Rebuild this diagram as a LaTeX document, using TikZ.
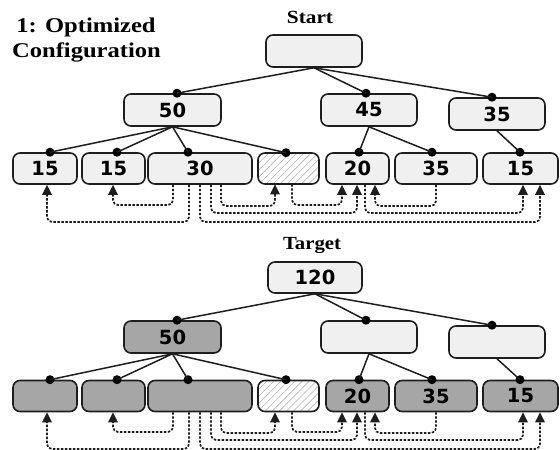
\documentclass[tikz,border=0pt]{standalone}
\usepackage{fontspec}
\setmainfont{Liberation Serif}
\newfontfamily\numfont{DejaVu Sans}
\usetikzlibrary{arrows.meta,patterns.meta}
\definecolor{boxlight}{HTML}{F0F0F0}
\definecolor{boxdark}{HTML}{A6A6A6}
\definecolor{edge}{HTML}{1E1E1E}

\tikzset{
  box/.style={draw=edge, line width=1.6pt, rounded corners=7pt, fill=boxlight,
    inner sep=0pt, text=black, font=\numfont\bfseries\fontsize{19.5}{21}\selectfont},
  dark/.style={fill=boxdark},
  hatch/.style={preaction={fill=white},
    pattern={Lines[angle=45,distance=5pt,line width=0.6pt]}, pattern color=gray!60},
  tie/.style={draw=edge, line width=1.5pt},
  knot/.style={circle, fill=black, inner sep=0pt, minimum size=9pt},
  wire/.style={draw=edge, line width=1.7pt, dash pattern=on 2.4pt off 1.6pt,
    rounded corners=5pt, -{Triangle[width=9.5pt,length=10pt]}},
  heading/.style={font=\bfseries\fontsize{21}{25}\selectfont, anchor=base, inner sep=0pt},
  caption/.style={font=\bfseries\fontsize{18.5}{20}\selectfont, anchor=base, inner sep=0pt},
}

% dashed hand-over lines below the leaf row of tree #1
\newcommand\wiring[1]{%
  \draw[wire] (189,0 |- #1c.south) -- (189,222) -- (47,222) -- (47,0 |- #1a.south);
  \draw[wire] (173,0 |- #1c.south) -- (173,205) -- (113,205) -- (113,0 |- #1b.south);
  \draw[wire] (221,0 |- #1c.south) -- (221,206) -- (275,206) -- (275,0 |- #1d.south);
  \draw[wire] (211,0 |- #1c.south) -- (211,213) -- (357,213) -- (357,0 |- #1e.south);
  \draw[wire] (200,0 |- #1c.south) -- (200,222) -- (540,222) -- (540,0 |- #1g.south);
  \draw[wire] (292,0 |- #1d.south) -- (292,205) -- (342,205) -- (342,0 |- #1e.south);
  \draw[wire] (436,0 |- #1f.south) -- (436,206) -- (375,206) -- (375,0 |- #1e.south);
  \draw[wire] (365,0 |- #1e.south) -- (365,213) -- (523,213) -- (523,0 |- #1g.south);
}

% tree edges ending in a dot on the child's top border
\newcommand\ties[1]{%
  \node[knot] (#1k50) at (177,0 |- #1m.north) {};
  \node[knot] (#1k45) at (366,0 |- #1n.north) {};
  \node[knot] (#1k35) at (492,0 |- #1o.north) {};
  \node[knot] (#1ka) at (50,0 |- #1a.north) {};
  \node[knot] (#1kb) at (117,0 |- #1b.north) {};
  \node[knot] (#1kc) at (188,0 |- #1c.north) {};
  \node[knot] (#1kd) at (286,0 |- #1d.north) {};
  \node[knot] (#1ke) at (359,0 |- #1e.north) {};
  \node[knot] (#1kf) at (432,0 |- #1f.north) {};
  \node[knot] (#1kg) at (520,0 |- #1g.north) {};
  \draw[tie] (#1r.south) -- (#1k50.center);
  \draw[tie] (#1r.south) -- (#1k45.center);
  \draw[tie] (#1r.south) -- (#1k35.center);
  \draw[tie] (#1m.south) -- (#1ka.center);
  \draw[tie] (#1m.south) -- (#1kb.center);
  \draw[tie] (#1m.south) -- (#1kc.center);
  \draw[tie] (#1m.south) -- (#1kd.center);
  \draw[tie] (#1n.south) -- (#1ke.center);
  \draw[tie] (#1n.south) -- (#1kf.center);
  \draw[tie] (#1o.south) -- (#1kg.center);
}

\begin{document}
\begin{tikzpicture}[x=1pt, y=-1pt]
  \useasboundingbox (0,0) rectangle (560,450);
  \clip (0,0) rectangle (560,450);

  \node[heading] (title1) at (86,32) {\scalebox{1.17}[1]{1: Optimized}};
  \node[heading] (title2) at (86.5,57) {\scalebox{1.17}[1]{Configuration}};

  % ---- start configuration ----
  \node[caption] (start) at (310,23) {\scalebox{1.15}[1]{Start}};
  \node[box, minimum width=96pt, minimum height=32pt] (sr) at (314,51) {};
  \node[box, minimum width=97pt, minimum height=32pt] (sm) at (172.5,110) {50};
  \node[box, minimum width=96pt, minimum height=32pt] (sn) at (369,110) {45};
  \node[box, minimum width=96pt, minimum height=32pt] (so) at (497,114) {35};
  \node[box, minimum width=64pt, minimum height=31pt] (sa) at (45,168.5) {15};
  \node[box, minimum width=63pt, minimum height=31pt] (sb) at (113.5,168.5) {15};
  \node[box, minimum width=104pt, minimum height=31pt] (sc) at (200,168.5) {30};
  \node[box, hatch, minimum width=61pt, minimum height=31pt] (sd) at (288.5,168.5) {};
  \node[box, minimum width=63pt, minimum height=31pt] (se) at (357.5,168.5) {20};
  \node[box, minimum width=82pt, minimum height=31pt] (sf) at (436,168.5) {35};
  \node[box, minimum width=75pt, minimum height=31pt] (sg) at (520.5,168.5) {15};
  \ties{s}
  \wiring{s}

  % ---- target configuration ----
  \node[caption] (target) at (312,249) {\scalebox{1.12}[1]{Target}};
  \begin{scope}[shift={(0,227)}]
    \node[box, minimum width=94pt, minimum height=31pt] (tr) at (315,50.5) {120};
    \node[box, dark, minimum width=97pt, minimum height=32pt] (tm) at (172.5,110) {50};
    \node[box, minimum width=96pt, minimum height=32pt] (tn) at (369,110) {};
    \node[box, minimum width=96pt, minimum height=32pt] (to) at (497,115) {};
    \node[box, dark, minimum width=64pt, minimum height=31pt] (ta) at (45,169) {};
    \node[box, dark, minimum width=63pt, minimum height=31pt] (tb) at (113.5,169) {};
    \node[box, dark, minimum width=104pt, minimum height=31pt] (tc) at (200,169) {};
    \node[box, hatch, minimum width=61pt, minimum height=31pt] (td) at (288.5,169) {};
    \node[box, dark, minimum width=63pt, minimum height=31pt] (te) at (357.5,169) {20};
    \node[box, dark, minimum width=82pt, minimum height=31pt] (tf) at (436,169) {35};
    \node[box, dark, minimum width=75pt, minimum height=31pt] (tg) at (520.5,169) {15};
    \ties{t}
    \wiring{t}
  \end{scope}
\end{tikzpicture}
\end{document}
